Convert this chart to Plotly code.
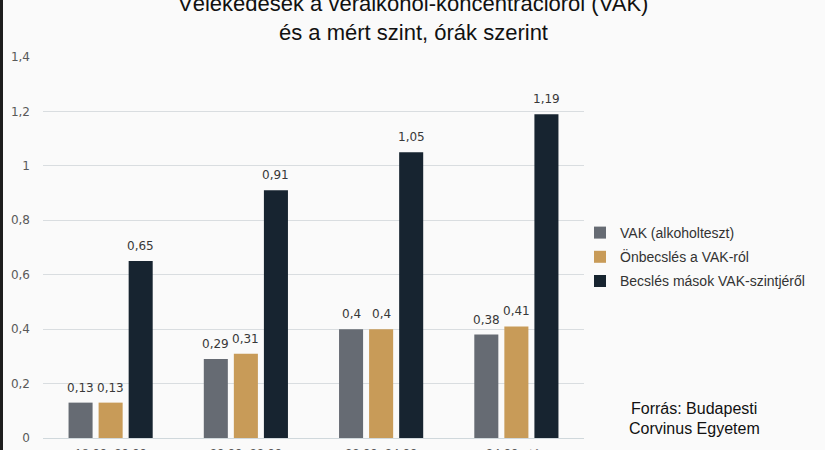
import plotly.graph_objects as go

categories = ["18:00–20:00", "20:00–22:00", "22:00–24:00", "24:00 után"]
series_names = ["VAK (alkoholteszt)", "Önbecslés a VAK-ról", "Becslés mások VAK-szintjéről"]
vak = [0.13, 0.29, 0.40, 0.38]
onbecsles = [0.13, 0.31, 0.40, 0.41]
masok = [0.65, 0.91, 1.05, 1.19]
colors = ["#666b73", "#c89b58", "#172430"]
title_line1 = "Vélekedések a véralkohol-koncentrációról (VAK)"
title_line2 = "és a mért szint, órák szerint"
source_lines = ["Forrás: Budapesti", "Corvinus Egyetem"]

W, H = 825, 450
L, R, T, B = 43, 241, 57, 12
pw, ph = W - L - R, H - T - B
SLOT = 30  # pixel offset between grouped bars


def fmt(v):
    return ("%g" % v).replace(".", ",")


def px_x(x):
    return (x - L) / pw


def px_y(y):
    return (H - B - y) / ph


fig = go.Figure()
annotations = []
for i, (name, vals, col) in enumerate(zip(series_names, [vak, onbecsles, masok], colors)):
    fig.add_trace(go.Bar(
        x=categories, y=vals, name=name, marker=dict(color=col, line=dict(width=0)),
        legendgroup=name,
    ))
    for c, v in zip(categories, vals):
        annotations.append(dict(
            x=c, y=v, xref="x", yref="y", text=fmt(v), showarrow=False,
            xanchor="center", yanchor="bottom", xshift=(i - 1) * SLOT, yshift=6,
            font=dict(family="DejaVu Sans", size=12, color="#383838"),
        ))

for txt, xp, yp, sz in [
    (title_line1, 413, 3, 22),
    (title_line2, 413, 33, 22),
    (source_lines[0], 694, 408, 16),
    (source_lines[1], 694, 428, 16),
]:
    annotations.append(dict(
        text=txt, x=px_x(xp), y=px_y(yp), xref="paper", yref="paper",
        xanchor="center", yanchor="middle", showarrow=False,
        font=dict(family="Liberation Sans", size=sz, color="#111111"),
    ))

fig.update_layout(
    width=W, height=H,
    margin=dict(l=L, r=R, t=T, b=B, pad=0, autoexpand=False),
    paper_bgcolor="#fafafa", plot_bgcolor="#fafafa",
    separators=", ",
    barmode="group", bargap=0.3333, bargroupgap=0.2,
    showlegend=True,
    legend=dict(xref="container", x=580 / W, yref="paper", y=px_y(257), yanchor="middle",
                xanchor="left", traceorder="grouped", tracegroupgap=3,
                font=dict(family="Liberation Sans", size=14, color="#333333"),
                bgcolor="rgba(0,0,0,0)"),
    annotations=annotations,
    xaxis=dict(showgrid=False, showline=False, zeroline=False, ticks="", automargin=False,
               tickfont=dict(family="Liberation Sans", size=13, color="#595959"),
               ticklabelstandoff=6),
    yaxis=dict(range=[0, 1.4], dtick=0.2, showgrid=True, gridcolor="#d9dde0", gridwidth=1,
               zeroline=True, zerolinecolor="#d0d8dc", zerolinewidth=1, showline=False,
               ticks="", ticklabelstandoff=12, automargin=False,
               tickfont=dict(family="DejaVu Sans", size=12, color="#595959")),
    shapes=[dict(type="rect", xref="paper", yref="paper", x0=px_x(0), x1=px_x(3),
                 y0=px_y(H), y1=px_y(0), fillcolor="#1e1e1e", line=dict(width=0), layer="above")],
)

fig.write_html("out.html")
